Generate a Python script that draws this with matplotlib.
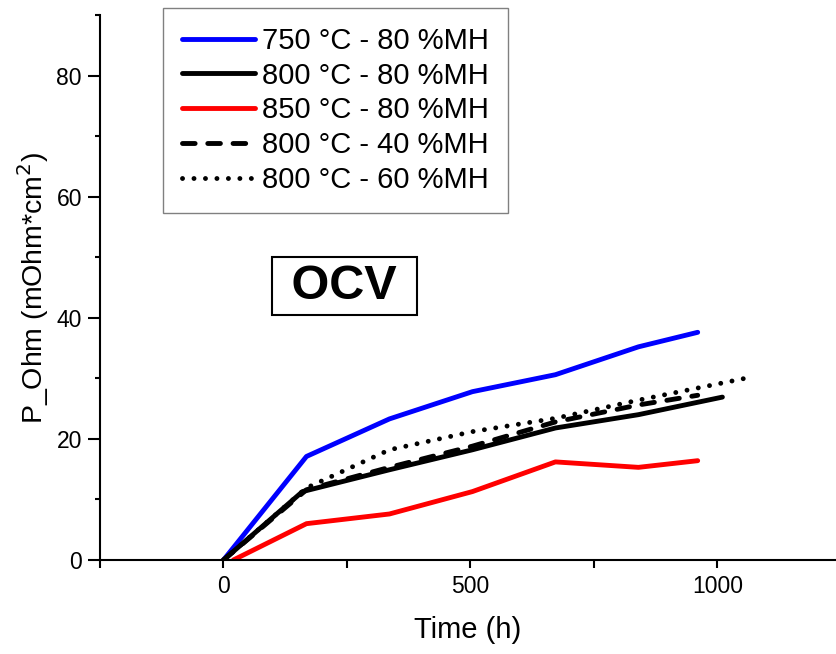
import matplotlib
matplotlib.use("Agg")
from matplotlib import pyplot as plt
from matplotlib.ticker import MultipleLocator

plt.rcParams['font.family'] = ['Liberation Sans', 'DejaVu Sans']

# time (h) and ohmic resistance (mOhm*cm2)
t_750_80 = [0, 168, 336, 504, 672, 840, 960]
r_750_80 = [0, 17.1, 23.3, 27.8, 30.6, 35.2, 37.6]

t_800_80 = [0, 160, 336, 504, 672, 840, 1010]
r_800_80 = [0, 11.3, 14.9, 18.2, 21.8, 24.0, 26.9]

t_850_80 = [20, 168, 336, 504, 672, 840, 960]
r_850_80 = [0, 6.0, 7.6, 11.3, 16.2, 15.3, 16.4]

t_800_40 = [0, 168, 336, 504, 672, 840, 960]
r_800_40 = [0, 11.6, 15.3, 18.8, 22.8, 25.6, 27.2]

t_800_60 = [0, 168, 336, 504, 672, 840, 1056]
r_800_60 = [0, 11.9, 18.2, 21.2, 23.4, 26.4, 30.0]

labels = ["750 °C - 80 %MH", "800 °C - 80 %MH", "850 °C - 80 %MH",
          "800 °C - 40 %MH", "800 °C - 60 %MH"]

fig = plt.figure(figsize=(8.36, 6.54), dpi=100)
ax = fig.add_axes([100/836, 94/654, 736/836, 545/654])

lw = 3.5
ax.plot(t_750_80, r_750_80, color='#0000ff', lw=lw, label=labels[0], solid_capstyle='round')
ax.plot(t_800_80, r_800_80, color='black', lw=lw, label=labels[1], solid_capstyle='round')
ax.plot(t_850_80, r_850_80, color='#ff0000', lw=lw, label=labels[2], solid_capstyle='round')
ax.plot(t_800_40, r_800_40, color='black', lw=lw, label=labels[3],
        dashes=(2.6, 2.6), dash_capstyle='round')
ax.plot(t_800_60, r_800_60, color='black', lw=lw, label=labels[4],
        dashes=(0.01, 2.35), dash_capstyle='round')

ax.set_xlim(-250, 1240)
ax.set_ylim(0, 90)
ax.xaxis.set_major_locator(MultipleLocator(500))
ax.xaxis.set_minor_locator(MultipleLocator(250))
ax.yaxis.set_major_locator(MultipleLocator(20))
ax.yaxis.set_minor_locator(MultipleLocator(10))

for s in ['top', 'right']:
    ax.spines[s].set_visible(False)
for s in ['left', 'bottom']:
    ax.spines[s].set_linewidth(1.5)

ax.tick_params(axis='both', which='major', labelsize=16.5, width=1.5, direction='out')
ax.tick_params(axis='y', which='major', length=9, pad=4)
ax.tick_params(axis='y', which='minor', length=3.6, width=1.5)
ax.tick_params(axis='x', which='major', length=6, pad=5)
ax.tick_params(axis='x', which='minor', length=6, width=1.5)

ax.set_xlabel("Time (h)", fontsize=21, labelpad=13)
ax.set_ylabel("P_Ohm (mOhm*cm$^2$)", fontsize=20.5, labelpad=4)

ax.text(245, 45.2, " OCV ", fontsize=35, fontweight='bold', ha='center', va='center',
        bbox=dict(boxstyle='square,pad=0.13', facecolor='white', edgecolor='black', lw=1.5))

leg = fig.legend(loc='upper left', bbox_to_anchor=(163/836, 1 - 8/654), fontsize=21,
                 handlelength=2.5, handletextpad=0.25, labelspacing=0.23,
                 borderpad=0.65, borderaxespad=0, fancybox=False, framealpha=1)
leg.get_frame().set_edgecolor('#808080')
leg.get_frame().set_linewidth(1)

fig.savefig("out.png", dpi=100)
